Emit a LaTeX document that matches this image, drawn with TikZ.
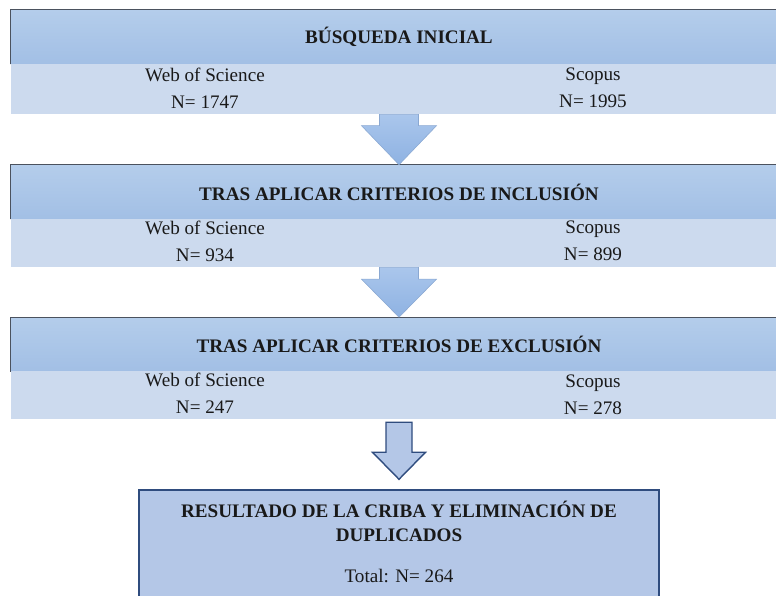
\documentclass[tikz,border=0pt]{standalone}
\usepackage{fontspec}
\setmainfont{Liberation Serif}
\usetikzlibrary{calc}
\definecolor{hdrtop}{HTML}{B4CDEB}
\definecolor{hdrbot}{HTML}{A2BFE5}
\definecolor{bandfill}{HTML}{CCDAEE}
\definecolor{edgegrey}{HTML}{4B525E}
\definecolor{arrtop}{HTML}{AAC6EC}
\definecolor{arrbot}{HTML}{8EB2E2}
\definecolor{arredge}{HTML}{8AA8D2}
\definecolor{resfill}{HTML}{B4C7E7}
\definecolor{resedge}{HTML}{2F4C7E}
\def\blockarrow[#1](#2)(#3)(#4:#5:#6){\draw[#1] ($(#2)+(-#5,0)$) -- ($(#3)+(-#5,-#4)$) -- ($(#3)+(-#6,-#4)$) -- (#3) -- ($(#3)+(#6,-#4)$) -- ($(#3)+(#5,-#4)$) -- ($(#2)+(#5,0)$) -- cycle;}
\tikzset{
	header/.style={inner sep=0, minimum width=19.4cm, minimum height=1.35cm, top color=hdrtop, bottom color=hdrbot, font=\fontsize{13.6}{19.2}\selectfont\bfseries, text=black!90},
	band/.style={inner sep=0, minimum width=19.4cm, fill=bandfill},
	count/.style={align=center, font=\fontsize{13.6}{19.2}\selectfont, text=black!90},
	result/.style={inner sep=0, minimum width=13cm, minimum height=3cm, fill=resfill, draw=resedge, line width=1pt},
}

\begin{document}
\begin{tikzpicture}[x=0.025cm, y=-0.025cm]
			%%%%% START %%%%%
			\useasboundingbox (0, 0) rectangle (776, 596);
			
			% busqueda inicial
			\node[header] (hdrA) at (399, 37) {BÚSQUEDA INICIAL};
			\node[band, minimum height=1.25cm] (bandA) at (399, 89) {};
			\draw[edgegrey, line width=0.8pt] (hdrA.south west) |- (hdrA.north east);
			\node[count] (wosA) at (205, 88) {Web of Science\\N= 1747};
			\node[count] (scoA) at (593, 88) {Scopus\\N= 1995};
			
			% criterios de inclusion
			\node[header] (hdrB) at (399, 192) {TRAS APLICAR CRITERIOS DE INCLUSIÓN};
			\node[band, minimum height=1.2cm] (bandB) at (399, 243) {};
			\draw[edgegrey, line width=0.8pt] (hdrB.south west) |- (hdrB.north east);
			\node[count] (wosB) at (205, 241) {Web of Science\\N= 934};
			\node[count] (scoB) at (593, 241) {Scopus\\N= 899};
			
			% criterios de exclusion
			\node[header] (hdrC) at (399, 344.5) {TRAS APLICAR CRITERIOS DE EXCLUSIÓN};
			\node[band, minimum height=1.2cm] (bandC) at (399, 395) {};
			\draw[edgegrey, line width=0.8pt] (hdrC.south west) |- (hdrC.north east);
			\node[count] (wosC) at (205, 393) {Web of Science\\N= 247};
			\node[count] (scoC) at (593, 395) {Scopus\\N= 278};
			
			% resultado
			\node[result] (res) at (399, 550) {};
			\node[count, font=\fontsize{13.6}{17}\selectfont\bfseries] (resTitle) at (399, 521) {RESULTADO DE LA CRIBA Y ELIMINACIÓN DE\\DUPLICADOS};
			\node[count] (resTotal) at (399, 576) {Total: N= 264};
			
			% flechas
			\blockarrow[top color=arrtop, bottom color=arrbot, draw=arredge, line width=0.4pt](bandA.south)(hdrB.north)(39:19.5:37.5);
			\blockarrow[top color=arrtop, bottom color=arrbot, draw=arredge, line width=0.4pt](bandB.south)(hdrC.north)(38:19.5:37.5);
			\coordinate (arrC0) at ($(bandC.south)+(0, 3)$);
			\coordinate (arrC1) at ($(res.north)+(0, -10)$);
			\blockarrow[fill=resfill, draw=resedge, line width=1pt, line join=miter](arrC0)(arrC1)(27:13:26.5);
			
			%%%%% END %%%%%
\end{tikzpicture}
\end{document}
